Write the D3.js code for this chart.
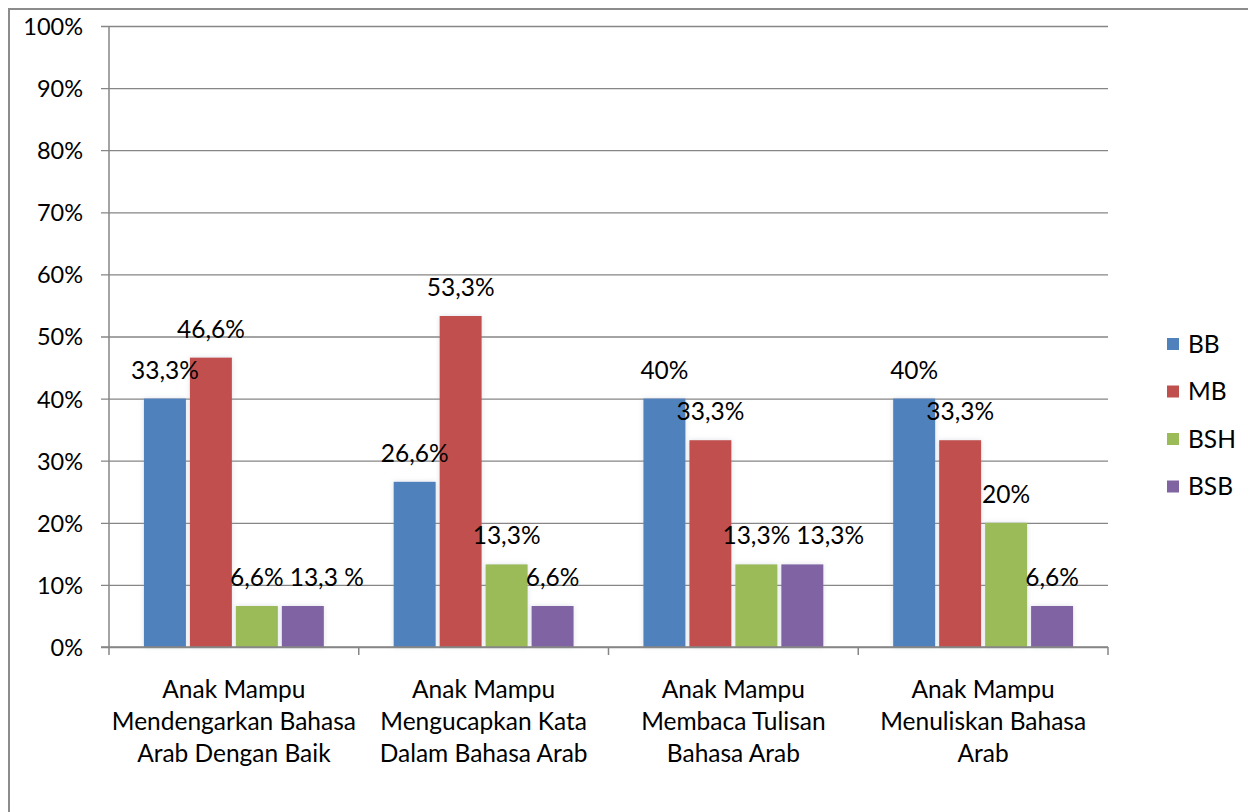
<!DOCTYPE html>
<html>
<head>
<meta charset="utf-8">
<script src="https://cdn.jsdelivr.net/npm/d3@7"></script>
<style>
    body { margin: 0; background: #fff; }
    svg { display: block; font-family: Lato, "Open Sans", sans-serif; }
    .label, .tick text, .legend text, .cat-label { fill: #000; }
</style>
</head>
<body>
<svg width="1248" height="812"></svg>
<script>
// Chart data
const categories = [
    "Anak Mampu\nMendengarkan Bahasa\nArab Dengan Baik",
    "Anak Mampu\nMengucapkan Kata\nDalam Bahasa Arab",
    "Anak Mampu\nMembaca Tulisan\nBahasa Arab",
    "Anak Mampu\nMenuliskan Bahasa\nArab"
];
const seriesNames = ["BB", "MB", "BSH", "BSB"];
const seriesColors = ["#4f81bd", "#c0504d", "#9bbb59", "#8064a2"];

// bar heights (percent)
const bbValues = [40, 26.6, 40, 40];
const mbValues = [46.6, 53.3, 33.3, 33.3];
const bshValues = [6.6, 13.3, 13.3, 20];
const bsbValues = [6.6, 6.6, 13.3, 6.6];

// data label texts as printed on the chart
const bbLabels = ["33,3%", "26,6%", "40%", "40%"];
const mbLabels = ["46,6%", "53,3%", "33,3%", "33,3%"];
const bshLabels = ["6,6%", "13,3%", "13,3%", "20%"];
const bsbLabels = ["13,3 %", "6,6%", "13,3%", "6,6%"];

const yTicks = [0, 10, 20, 30, 40, 50, 60, 70, 80, 90, 100];

const allValues = [bbValues, mbValues, bshValues, bsbValues];
const allLabels = [bbLabels, mbLabels, bshLabels, bsbLabels];

const svg = d3.select("svg");
const fontSize = 24.5;
const gridColor = "#868686";

// Outer chart border (right and bottom edges fall outside the picture)
svg.append("rect")
    .attr("x", 9).attr("y", 9)
    .attr("width", 1260).attr("height", 830)
    .attr("fill", "none")
    .attr("stroke", "#8c8c8c")
    .attr("stroke-width", 2);

const plot = { left: 109, right: 1108, top: 26, bottom: 647 };

const x = d3.scaleBand()
    .domain(categories)
    .range([plot.left, plot.right]);

const xSub = d3.scaleBand()
    .domain(seriesNames)
    .range([0, x.bandwidth()])
    .paddingInner(0.087)
    .paddingOuter(0.76);

const y = d3.scaleLinear()
    .domain([0, 100])
    .range([plot.bottom, plot.top]);

// Gridlines + y axis labels
const yAxis = d3.axisLeft(y)
    .tickValues(yTicks)
    .tickFormat(d => d + "%")
    .tickSize(-(plot.right - plot.left))
    .tickPadding(26);

svg.append("g")
    .attr("class", "y-axis")
    .attr("transform", `translate(${plot.left}, 0)`)
    .call(yAxis)
    .call(g => g.select(".domain").remove())
    .call(g => g.selectAll(".tick line")
        .attr("x1", -8)
        .attr("stroke", gridColor)
        .attr("stroke-width", 1.3))
    .call(g => g.selectAll(".tick text")
        .attr("font-size", 23.5)
        .attr("font-family", "Lato, sans-serif")
        .attr("dy", "0.36em"));

// Soft shadow for the bars
const defs = svg.append("defs");
const shadow = defs.append("filter").attr("id", "soft")
    .attr("x", "-30%").attr("y", "-10%").attr("width", "160%").attr("height", "120%");
shadow.append("feDropShadow")
    .attr("dx", 0).attr("dy", 0)
    .attr("stdDeviation", 2.5)
    .attr("flood-color", "#9aa4b8")
    .attr("flood-opacity", 0.35);

// Bars
const rows = categories.map((c, i) => ({
    category: c,
    items: seriesNames.map((s, j) => ({ series: s, value: allValues[j][i], label: allLabels[j][i], color: seriesColors[j] }))
}));

const groups = svg.append("g").attr("class", "bar-group")
    .selectAll("g")
    .data(rows)
    .join("g")
    .attr("transform", d => `translate(${x(d.category)}, 0)`);

groups.selectAll("rect")
    .data(d => d.items)
    .join("rect")
    .attr("class", "bar")
    .attr("x", d => xSub(d.series))
    .attr("y", d => y(d.value))
    .attr("width", xSub.bandwidth())
    .attr("height", d => y(0) - y(d.value))
    .attr("fill", d => d.color)
    .attr("filter", "url(#soft)");

const labels = groups.selectAll("text")
    .data(d => d.items)
    .join("text")
    .attr("class", "label")
    .attr("x", d => xSub(d.series) + xSub.bandwidth() / 2)
    .attr("y", d => y(d.value) - 20)
    .attr("text-anchor", "middle")
    .attr("font-size", fontSize)
    .text(d => d.label);

// Push a label to the right when it would run into the previous label of the group
// at about the same height (the original labels were dragged apart the same way)
groups.each(function () {
    let prev = null;
    d3.select(this).selectAll(".label").each(function () {
        const t = d3.select(this);
        const w = this.getComputedTextLength();
        let cx = Number(t.attr("x"));
        const cy = Number(t.attr("y"));
        if (prev && Math.abs(prev.y - cy) < fontSize && cx - w / 2 < prev.right + 6) {
            cx = prev.right + 6 + w / 2;
            t.attr("x", cx);
        }
        prev = { right: cx + w / 2, y: cy };
    });
});

// X axis line with tick marks at category edges
const xAxis = d3.axisBottom(x)
    .tickSize(0)
    .tickFormat("");

svg.append("g")
    .attr("class", "x-axis")
    .attr("transform", `translate(0, ${plot.bottom})`)
    .call(xAxis)
    .call(g => g.select(".domain")
        .attr("d", `M${plot.left - 8},0H${plot.right}`)
        .attr("stroke", gridColor)
        .attr("stroke-width", 1.5));

svg.append("g")
    .selectAll("line")
    .data([plot.left, ...categories.map(c => x(c) + x.bandwidth())])
    .join("line")
    .attr("x1", d => d).attr("x2", d => d)
    .attr("y1", plot.bottom).attr("y2", plot.bottom + 8)
    .attr("stroke", gridColor)
    .attr("stroke-width", 1.5);

// Y axis line
svg.append("line")
    .attr("x1", plot.left).attr("x2", plot.left)
    .attr("y1", plot.top).attr("y2", plot.bottom)
    .attr("stroke", gridColor)
    .attr("stroke-width", 1.5);

// Category labels (three lines each)
svg.append("g")
    .selectAll("text")
    .data(categories)
    .join("text")
    .attr("class", "cat-label")
    .attr("text-anchor", "middle")
    .attr("font-size", fontSize)
    .attr("transform", d => `translate(${x(d) + x.bandwidth() / 2}, 698)`)
    .selectAll("tspan")
    .data(d => d.split("\n"))
    .join("tspan")
    .attr("x", 0)
    .attr("y", (d, i) => i * 32)
    .text(d => d);

// Legend
const legend = svg.append("g")
    .attr("class", "legend")
    .attr("transform", "translate(1167, 344)");

const legendItems = legend.selectAll("g")
    .data(seriesNames)
    .join("g")
    .attr("transform", (d, i) => `translate(0, ${i * 47.5})`);

legendItems.append("rect")
    .attr("x", 0).attr("y", -6)
    .attr("width", 12).attr("height", 12)
    .attr("fill", (d, i) => seriesColors[i]);

legendItems.append("text")
    .attr("x", 21)
    .attr("dy", "0.36em")
    .attr("font-size", fontSize)
    .text(d => d);
</script>
</body>
</html>
